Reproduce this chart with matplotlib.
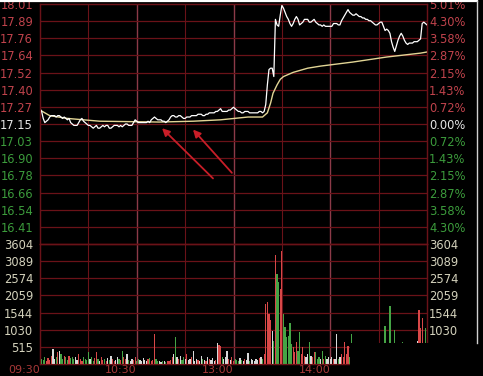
import numpy as np
import matplotlib.pyplot as plt
from matplotlib.patches import Rectangle
from matplotlib.lines import Line2D

prev_close = 17.15

# last price, one value per minute (09:30 .. 11:30 / 13:00 .. 15:00)
price = [
    17.26, 17.24, 17.19, 17.16, 17.17, 17.18, 17.20, 17.21, 17.21, 17.21,
    17.20, 17.21, 17.21, 17.20, 17.19, 17.20, 17.19, 17.18, 17.19, 17.16,
    17.15, 17.14, 17.14, 17.14, 17.16, 17.18, 17.19, 17.17, 17.16, 17.15,
    17.14, 17.14, 17.13, 17.12, 17.13, 17.14, 17.12, 17.12, 17.13, 17.14,
    17.13, 17.14, 17.14, 17.12, 17.12, 17.13, 17.14, 17.14, 17.14, 17.13,
    17.14, 17.13, 17.14, 17.15, 17.15, 17.14, 17.14, 17.14, 17.16, 17.18,
    17.17, 17.16, 17.16, 17.16, 17.16, 17.16, 17.16, 17.17, 17.16, 17.18,
    17.19, 17.20, 17.19, 17.18, 17.18, 17.18, 17.17, 17.17, 17.16, 17.17,
    17.18, 17.20, 17.21, 17.21, 17.20, 17.20, 17.21, 17.21, 17.20, 17.19,
    17.19, 17.20, 17.20, 17.20, 17.21, 17.21, 17.21, 17.21, 17.22, 17.22,
    17.22, 17.21, 17.21, 17.22, 17.22, 17.23, 17.23, 17.23, 17.23, 17.24,
    17.24, 17.25, 17.26, 17.24, 17.24, 17.24, 17.24, 17.25, 17.25, 17.26,
    17.27, 17.26, 17.25, 17.24, 17.24, 17.23, 17.23, 17.24, 17.24, 17.24,
    17.23, 17.23, 17.23, 17.23, 17.23, 17.23, 17.24, 17.24, 17.23, 17.24,
    17.29, 17.43, 17.54, 17.55, 17.55, 17.49, 17.90, 17.86, 17.85, 17.93,
    18.00, 17.98, 17.95, 17.92, 17.90, 17.87, 17.85, 17.87, 17.90, 17.92,
    17.90, 17.86, 17.87, 17.88, 17.90, 17.90, 17.90, 17.88, 17.88, 17.89,
    17.90, 17.88, 17.87, 17.86, 17.86, 17.85, 17.86, 17.85, 17.85, 17.85,
    17.85, 17.85, 17.87, 17.87, 17.87, 17.86, 17.86, 17.89, 17.91, 17.93,
    17.95, 17.97, 17.95, 17.94, 17.93, 17.93, 17.94, 17.93, 17.92, 17.92,
    17.91, 17.91, 17.90, 17.90, 17.89, 17.89, 17.88, 17.87, 17.86, 17.86,
    17.87, 17.88, 17.88, 17.85, 17.82, 17.83, 17.82, 17.80, 17.74, 17.70,
    17.67, 17.71, 17.75, 17.78, 17.80, 17.78, 17.75, 17.73, 17.72, 17.73,
    17.73, 17.73, 17.74, 17.74, 17.74, 17.75, 17.76, 17.87, 17.88, 17.87,
    17.86,
]

# average price line
avg_min = [0, 6, 17, 37, 74, 95, 112, 129, 138, 141, 143, 144.5, 147, 149,
           151, 157, 166, 174, 194, 215, 236, 240]
avg_price = [17.25, 17.21, 17.19, 17.17, 17.164, 17.17, 17.18, 17.20, 17.20,
             17.23, 17.30, 17.37, 17.43, 17.47, 17.49, 17.52, 17.55, 17.565,
             17.594, 17.63, 17.658, 17.666]

volume = [
    500, 150, 120, 200, 100, 180, 130, 250, 450, 150,
    200, 350, 400, 300, 150, 250, 200, 120, 250, 180,
    200, 150, 200, 120, 300, 150, 100, 200, 150, 120,
    350, 150, 200, 100, 180, 350, 150, 100, 200, 120,
    150, 100, 180, 120, 250, 150, 100, 120, 200, 150,
    120, 400, 200, 150, 300, 120, 100, 150, 120, 200,
    100, 150, 120, 100, 180, 120, 100, 150, 180, 100,
    120, 900, 150, 80, 100, 60, 80, 100, 60, 80,
    100, 120, 200, 300, 800, 200, 150, 250, 120, 200,
    150, 300, 120, 150, 200, 380, 100, 150, 120, 100,
    230, 150, 120, 100, 200, 150, 120, 180, 100, 120,
    630, 580, 530, 200, 150, 200, 380, 150, 120, 200,
    100, 150, 120, 100, 180, 120, 100, 150, 120, 330,
    100, 150, 120, 100, 150, 120, 180, 200, 150, 300,
    1800, 1850, 1500, 1330, 980, 700, 3270, 2700, 2450, 2250,
    3400, 1500, 1100, 800, 850, 1230, 600, 500, 350, 650,
    400, 950, 300, 500, 250, 200, 300, 650, 250, 200,
    350, 350, 150, 200, 150, 400, 150, 250, 150, 200,
    150, 200, 150, 150, 900, 150, 200, 300, 200, 650,
    300, 550, 200, 900, 200, 300, 150, 250, 200, 300,
    150, 200, 250, 150, 300, 200, 150, 250, 200, 300,
    150, 200, 250, 300, 1150, 300, 400, 1750, 300, 400,
    1020, 250, 200, 300, 200, 650, 200, 150, 250, 200,
    300, 200, 250, 400, 700, 1620, 1080, 1380, 500, 1080,
    600,
]

price_labels = ['18.01', '17.89', '17.76', '17.64', '17.52', '17.40', '17.27',
                '17.15', '17.03', '16.90', '16.78', '16.66', '16.54', '16.41']
pct_labels = ['5.01%', '4.30%', '3.58%', '2.87%', '2.15%', '1.43%', '0.72%',
              '0.00%', '0.72%', '1.43%', '2.15%', '2.87%', '3.58%', '4.30%']
vol_labels = ['3604', '3089', '2574', '2059', '1544', '1030', '515']
time_ticks = [0, 60, 120, 180]
time_labels = ['09:30', '10:30', '13:00', '14:00']

# red arrows: (head minute, head price), (tail minute, tail price)
arrows = [((75.7, 17.12), (107.3, 16.76)),
          ((94.9, 17.11), (119.0, 16.80))]

BG = 'black'
GRID = '#6a1218'
GRID_HI = '#8c3a48'
RED = '#c0434c'
GREEN = '#3c9c3c'
WHITE = '#e6e6e6'
VOLTXT = '#d4d2bc'

minutes = np.arange(len(price))
p_lo, p_hi = 16.29, 18.01
p_levels = np.linspace(p_hi, p_lo, 15)
v_max = 3605
v_levels = [3604, 3089, 2574, 2059, 1544, 1030, 515]

fig = plt.figure(figsize=(4.83, 3.76), dpi=100, facecolor=BG)
L, R = 40 / 483, 427 / 483
axp = fig.add_axes([L, 132 / 376, R - L, 240 / 376], facecolor=BG)
axv = fig.add_axes([L, 12 / 376, R - L, 120 / 376], facecolor=BG)

for ax in (axp, axv):
    ax.set_xlim(0, 240)
    for sp in ax.spines.values():
        sp.set_color(GRID)
        sp.set_linewidth(1.0)
    for m in range(30, 240, 30):
        hi = m % 60 == 0
        ax.axvline(m, color=GRID_HI if hi else GRID, lw=1.0 if hi else 0.8, zorder=1)

# price panel
axp.set_ylim(p_lo, p_hi)
for lv in p_levels[1:-1]:
    axp.axhline(lv, color=GRID, lw=0.9, zorder=1)
axp.plot(avg_min, avg_price, color='#e2d595', lw=1.0, zorder=3)
axp.plot(minutes, price, color='white', lw=0.9, zorder=4)
axp.set_xticks([])
axp.set_yticks(p_levels[:-1])
axp.set_yticklabels(price_labels)
axp.tick_params(axis='y', length=0, pad=5, labelsize=8.3)
axp2 = axp.twinx()
axp2.set_ylim(p_lo, p_hi)
axp2.set_yticks(p_levels[:-1])
axp2.set_yticklabels(pct_labels)
axp2.tick_params(axis='y', length=0, pad=1.5, labelsize=8.3)
for sp in axp2.spines.values():
    sp.set_color(GRID)
for a in (axp, axp2):
    for i, t in enumerate(a.get_yticklabels()):
        t.set_color(RED if i < 7 else (WHITE if i == 7 else GREEN))

for head, tail in arrows:
    axp.annotate('', xy=head, xytext=tail,
                 arrowprops=dict(arrowstyle='-|>', color='#c81e28', lw=1.3,
                                 mutation_scale=11, shrinkA=0, shrinkB=0),
                 zorder=5)

# volume panel
axv.set_ylim(0, v_max)
for lv in v_levels:
    axv.axhline(lv, color=GRID, lw=0.9, zorder=1)
prev = [prev_close] + price[:-1]
bar_colors = ['#d84848' if p > q else ('#45a445' if p < q else '#d8d8d8')
              for p, q in zip(price, prev)]
axv.bar(minutes, volume, width=0.75, color=bar_colors, zorder=3)
axv.set_yticks(v_levels)
axv.set_yticklabels(vol_labels)
axv.tick_params(axis='y', length=0, pad=5, labelsize=8.3, labelcolor=VOLTXT)
axv.set_xticks(time_ticks)
axv.set_xticklabels(time_labels)
axv.tick_params(axis='x', length=0, pad=0.5, labelsize=8, labelcolor='#a83838')
for t in axv.get_xticklabels():
    t.set_ha('right')
axv2 = axv.twinx()
axv2.set_ylim(0, v_max)
axv2.set_yticks(v_levels)
axv2.set_yticklabels(vol_labels)
axv2.tick_params(axis='y', length=0, pad=1.5, labelsize=8.3, labelcolor=VOLTXT)
for sp in axv2.spines.values():
    sp.set_color(GRID)

# screenshot frame and black box bottom right
fig.add_artist(Rectangle((350 / 483, 0), 133 / 483, 33 / 376, transform=fig.transFigure,
                         facecolor='black', edgecolor='none', zorder=10))
fig.add_artist(Line2D([0, 477 / 483], [0.997, 0.997], transform=fig.transFigure,
                      color='white', lw=1.6, zorder=11))
fig.add_artist(Line2D([477 / 483, 477 / 483], [0.997, 33 / 376], transform=fig.transFigure,
                      color='#d0d0d0', lw=1.0, zorder=11))

fig.savefig('out.png', dpi=100, facecolor=BG)
